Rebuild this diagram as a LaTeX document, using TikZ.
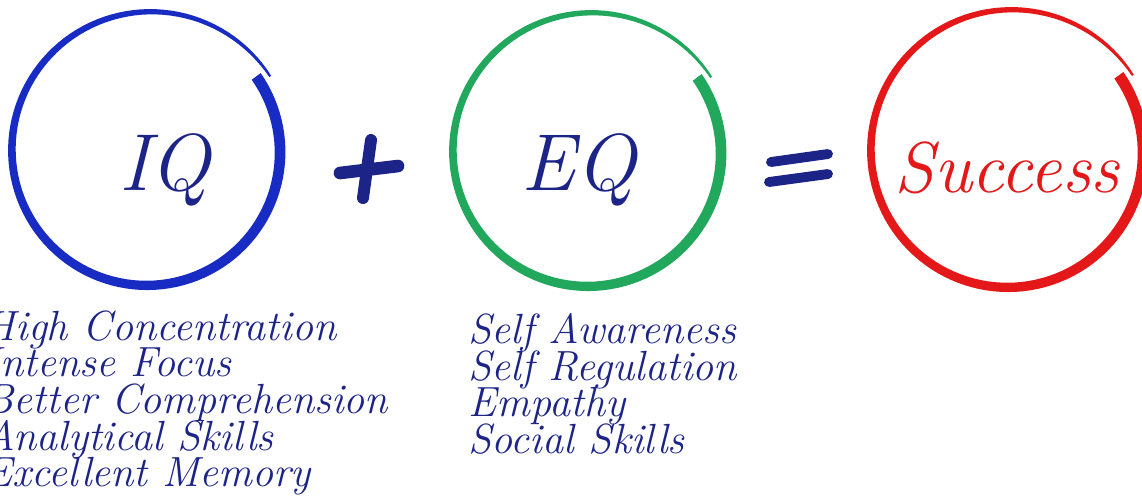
\documentclass[tikz,border=0pt]{standalone}
\usepackage{tikz}

\definecolor{ringblue}{RGB}{24,44,196}
\definecolor{ringgreen}{RGB}{34,168,92}
\definecolor{ringred}{RGB}{228,24,24}
\definecolor{inkblue}{RGB}{28,36,136}
\setlength{\lineskiplimit}{-20pt}

\begin{document}
\begin{tikzpicture}
	\useasboundingbox (0,0) rectangle (11.42,-4.98);
	\clip (0,0) rectangle (11.42,-4.98);

	\foreach \cx/\cy/\rr/\col in {1.48/-1.52/1.37/ringblue, 5.89/-1.53/1.37/ringgreen, 10.09/-1.52/1.39/ringred}
		\fill[\col, shift={(\cx,\cy)}] plot[domain=0:0.99, samples=120] ({35-367*\x}:{\rr-0.05+0.12*\x*\x+0.006+0.05*(1-\x)^0.5})
			-- plot[domain=0.99:0, samples=120] ({35-367*\x}:{\rr-0.05+0.12*\x*\x-0.006-0.05*(1-\x)^0.5}) -- cycle;

	\node[inkblue, anchor=base, font=\fontsize{23}{23}\selectfont\itshape] (iq) at (1.65,-1.90) {IQ};
	\node[inkblue, anchor=base, font=\fontsize{23}{23}\selectfont\itshape] (eq) at (5.79,-1.90) {EQ};
	\node[ringred, anchor=base, font=\fontsize{20.5}{20.5}\selectfont\itshape] (success) at (10.07,-1.92) {Success};

	\draw[inkblue, line width=3.6pt, line cap=round] (3.40,-1.73) -- (3.98,-1.66);
	\draw[inkblue, line width=3.4pt, line cap=round] (3.71,-1.40) -- (3.63,-1.98);

	\draw[inkblue, line width=2.8pt, line cap=round] (7.71,-1.62) -- (8.28,-1.54);
	\draw[inkblue, line width=2.8pt, line cap=round] (7.69,-1.82) -- (8.28,-1.74);

	\node[inkblue, anchor=north west, inner sep=0pt, align=left, font=\fontsize{12}{10.4}\selectfont\itshape] (iqlist) at (-0.16,-3.10)
		{High Concentration\\Intense Focus\\Better Comprehension\\Analytical Skills\\Excellent Memory};
	\node[inkblue, anchor=north west, inner sep=0pt, align=left, font=\fontsize{12}{10.4}\selectfont\itshape] (eqlist) at (4.68,-3.13)
		{Self Awareness\\Self Regulation\\Empathy\\Social Skills};
\end{tikzpicture}
\end{document}
